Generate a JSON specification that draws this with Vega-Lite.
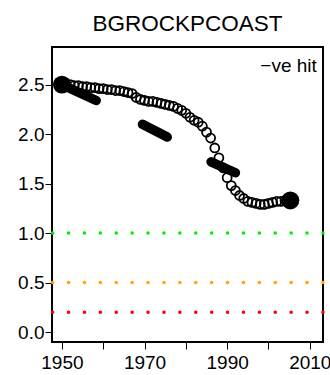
{
  "$schema": "https://vega.github.io/schema/vega-lite/v6.json",
  "autosize": "none",
  "width": 271,
  "height": 295,
  "padding": {"left": 52, "top": 47, "right": 7, "bottom": 33},
  "background": "white",
  "config": {
    "font": "Liberation Sans",
    "view": {"stroke": "black", "strokeWidth": 2},
    "axis": {"grid": false, "domain": false, "tickColor": "black", "tickSize": 7, "labelColor": "black", "labelFont": "Liberation Sans", "labelFontSize": 19, "title": null}
  },
  "title": {"text": "BGROCKPCOAST", "font": "Liberation Sans", "fontSize": 22.5, "fontWeight": "normal", "color": "black", "anchor": "middle", "offset": 12},
  "datasets": {
    "circles": [
      {"year": 1950, "v": 2.50}, {"year": 1951, "v": 2.50}, {"year": 1952, "v": 2.50}, {"year": 1953, "v": 2.49},
      {"year": 1954, "v": 2.49}, {"year": 1955, "v": 2.48}, {"year": 1956, "v": 2.48}, {"year": 1957, "v": 2.47},
      {"year": 1958, "v": 2.47}, {"year": 1959, "v": 2.46}, {"year": 1960, "v": 2.46}, {"year": 1961, "v": 2.45},
      {"year": 1962, "v": 2.45}, {"year": 1963, "v": 2.44}, {"year": 1964, "v": 2.44}, {"year": 1965, "v": 2.43},
      {"year": 1966, "v": 2.42}, {"year": 1967, "v": 2.41}, {"year": 1968, "v": 2.37}, {"year": 1969, "v": 2.35},
      {"year": 1970, "v": 2.34}, {"year": 1971, "v": 2.33}, {"year": 1972, "v": 2.33}, {"year": 1973, "v": 2.32},
      {"year": 1974, "v": 2.31}, {"year": 1975, "v": 2.30}, {"year": 1976, "v": 2.29}, {"year": 1977, "v": 2.28},
      {"year": 1978, "v": 2.26}, {"year": 1979, "v": 2.24}, {"year": 1980, "v": 2.21}, {"year": 1981, "v": 2.17},
      {"year": 1982, "v": 2.14}, {"year": 1983, "v": 2.12}, {"year": 1984, "v": 2.08}, {"year": 1985, "v": 2.02},
      {"year": 1986, "v": 1.96}, {"year": 1987, "v": 1.86}, {"year": 1988, "v": 1.76}, {"year": 1989, "v": 1.66},
      {"year": 1990, "v": 1.56}, {"year": 1991, "v": 1.48}, {"year": 1992, "v": 1.43}, {"year": 1993, "v": 1.38},
      {"year": 1994, "v": 1.35}, {"year": 1995, "v": 1.32}, {"year": 1996, "v": 1.31}, {"year": 1997, "v": 1.30},
      {"year": 1998, "v": 1.29}, {"year": 1999, "v": 1.29}, {"year": 2000, "v": 1.30}, {"year": 2001, "v": 1.31},
      {"year": 2002, "v": 1.32}, {"year": 2003, "v": 1.32}, {"year": 2004, "v": 1.33}, {"year": 2005, "v": 1.33}
    ],
    "segments": [
      {"seg": "a", "year": 1950, "v": 2.50}, {"seg": "a", "year": 1958.3, "v": 2.34},
      {"seg": "b", "year": 1969.5, "v": 2.10}, {"seg": "b", "year": 1975.5, "v": 1.97},
      {"seg": "c", "year": 1986.1, "v": 1.72}, {"seg": "c", "year": 1992, "v": 1.61}
    ],
    "bigdots": [
      {"year": 1950, "v": 2.50}, {"year": 2005.3, "v": 1.33}
    ],
    "refs": [
      {"level": 1.0, "col": "green"}, {"level": 0.5, "col": "orange"}, {"level": 0.2, "col": "red"}
    ],
    "label": [
      {"year": 2011.7, "v": 2.626, "text": "\u2212ve hit"}
    ]
  },
  "layer": [
    {
      "data": {"name": "refs"},
      "mark": {"type": "rule", "strokeWidth": 3.5, "strokeDash": [0.1, 15.8], "strokeCap": "round"},
      "encoding": {
        "y": {"field": "level", "type": "quantitative", "scale": {"domain": [-0.1, 2.88], "nice": false, "zero": false},
              "axis": {"values": [0, 0.5, 1, 1.5, 2, 2.5], "format": ".1f", "labelPadding": 1}},
        "color": {"field": "col", "type": "nominal", "scale": {"domain": ["green", "orange", "red"], "range": ["#00f000", "#ffa500", "#ff0000"]}, "legend": null}
      }
    },
    {
      "data": {"name": "circles"},
      "mark": {"type": "point", "shape": "circle", "filled": false, "stroke": "black", "strokeWidth": 1.8, "size": 80, "opacity": 1},
      "encoding": {
        "x": {"field": "year", "type": "quantitative", "scale": {"domain": [1947.6, 2013.2], "nice": false, "zero": false},
              "axis": {"values": [1950, 1960, 1970, 1980, 1990, 2000, 2010], "labelExpr": "datum.value % 20 == 10 ? datum.value : ''", "labelPadding": 4, "labelFlush": false, "labelOverlap": false}},
        "y": {"field": "v", "type": "quantitative"}
      }
    },
    {
      "data": {"name": "segments"},
      "mark": {"type": "line", "color": "black", "strokeWidth": 9.5, "strokeCap": "round"},
      "encoding": {
        "x": {"field": "year", "type": "quantitative"},
        "y": {"field": "v", "type": "quantitative"},
        "detail": {"field": "seg", "type": "nominal"}
      }
    },
    {
      "data": {"name": "bigdots"},
      "mark": {"type": "circle", "color": "black", "size": 320, "opacity": 1},
      "encoding": {
        "x": {"field": "year", "type": "quantitative"},
        "y": {"field": "v", "type": "quantitative"}
      }
    },
    {
      "data": {"name": "label"},
      "mark": {"type": "text", "align": "right", "baseline": "alphabetic", "fontSize": 19, "font": "Liberation Sans", "color": "black"},
      "encoding": {
        "x": {"field": "year", "type": "quantitative"},
        "y": {"field": "v", "type": "quantitative"},
        "text": {"field": "text"}
      }
    }
  ]
}
